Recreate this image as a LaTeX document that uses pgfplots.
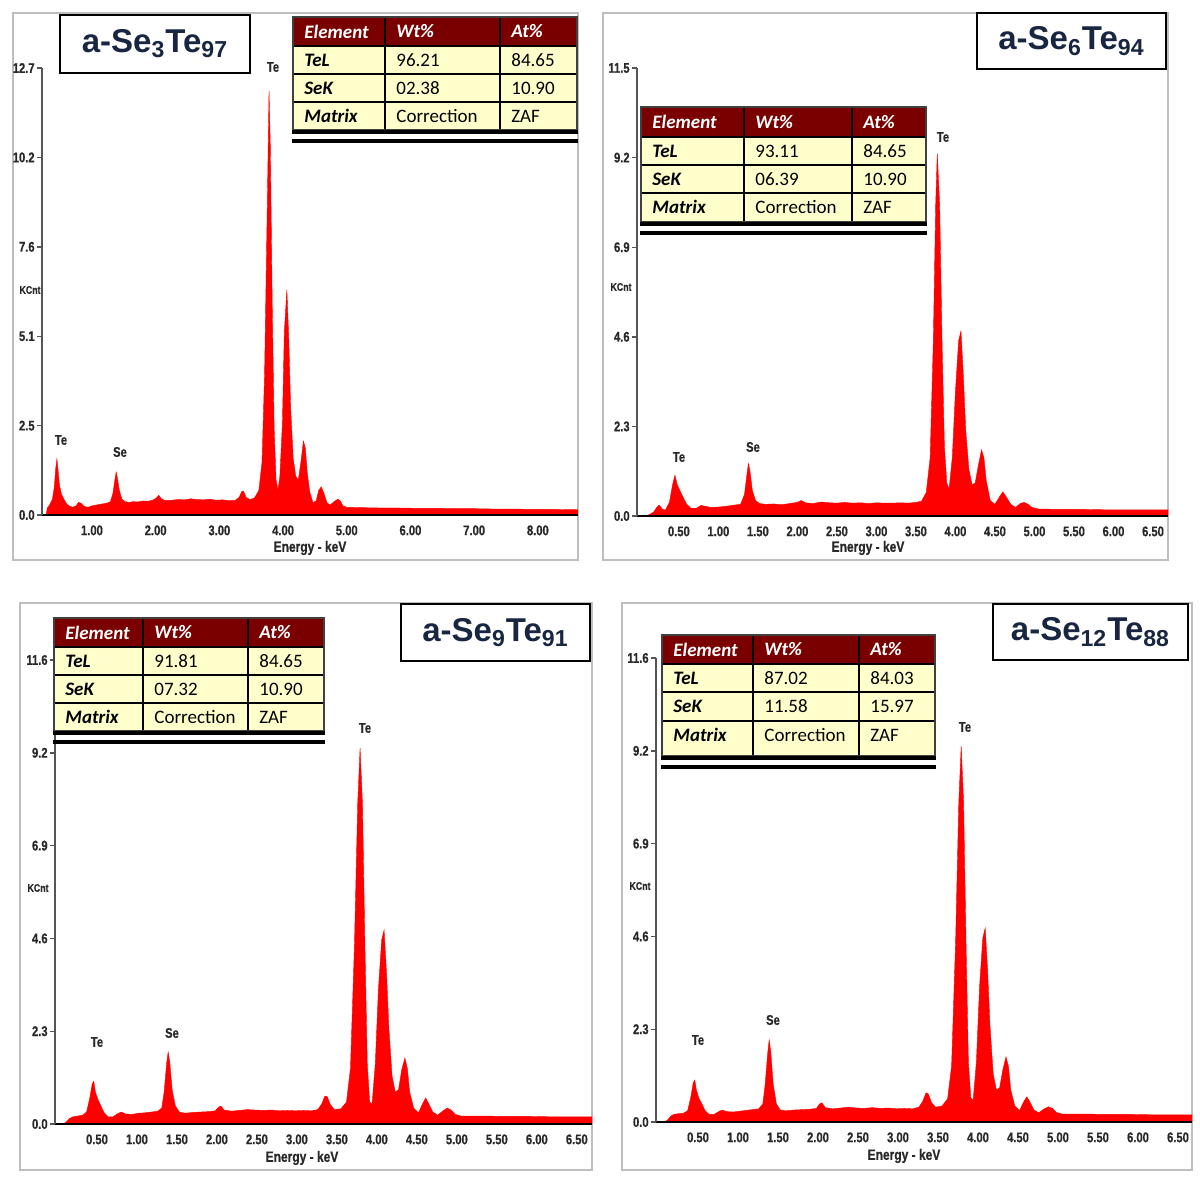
\documentclass[border=0pt]{standalone}
\usepackage{pgfplots}
\pgfplotsset{compat=1.18}
\usepackage{pgfplotstable}
\usepackage{fontspec}
\setmainfont{Liberation Sans}
\newfontfamily\tabfont{Carlito}
\newfontfamily\tickfont[FakeStretch=0.8,FakeBold=0.6]{Liberation Sans}

\definecolor{framegray}{RGB}{190,190,190}
\definecolor{axisgray}{RGB}{85,85,85}
\definecolor{ticktext}{RGB}{40,40,40}
\definecolor{hdrred}{RGB}{122,0,0}
\definecolor{cellyel}{RGB}{255,255,204}
\definecolor{titlenavy}{RGB}{24,38,66}
\definecolor{specred}{RGB}{255,0,0}

% spectra, keV vs KCnt
\pgfplotstableread{
E C
0.28 0.00
0.30 0.20
0.34 0.30
0.38 0.45
0.41 0.80
0.43 1.30
0.45 1.60
0.47 1.25
0.49 0.85
0.52 0.60
0.56 0.45
0.60 0.32
0.65 0.25
0.70 0.22
0.75 0.26
0.79 0.36
0.83 0.33
0.88 0.24
0.94 0.22
1.00 0.26
1.06 0.28
1.12 0.30
1.18 0.32
1.24 0.34
1.29 0.38
1.33 0.62
1.36 1.00
1.38 1.22
1.40 1.05
1.43 0.70
1.47 0.45
1.52 0.38
1.58 0.36
1.65 0.38
1.72 0.37
1.80 0.40
1.88 0.39
1.95 0.42
2.01 0.48
2.05 0.56
2.09 0.46
2.15 0.41
2.25 0.42
2.35 0.44
2.45 0.43
2.55 0.46
2.65 0.44
2.75 0.43
2.85 0.45
2.95 0.42
3.05 0.43
3.15 0.41
3.25 0.42
3.31 0.50
3.35 0.66
3.38 0.68
3.42 0.50
3.48 0.44
3.55 0.48
3.62 0.70
3.67 1.50
3.71 4.00
3.75 8.50
3.78 12.05
3.80 10.50
3.83 6.00
3.86 2.50
3.89 1.00
3.92 0.70
3.95 1.10
3.99 2.60
4.02 5.20
4.06 6.40
4.09 5.00
4.12 3.00
4.16 1.60
4.20 1.10
4.24 1.00
4.28 1.50
4.32 2.10
4.35 1.90
4.38 1.20
4.42 0.65
4.47 0.35
4.52 0.40
4.56 0.70
4.60 0.80
4.64 0.62
4.69 0.35
4.74 0.28
4.80 0.38
4.86 0.45
4.90 0.40
4.94 0.26
5.00 0.22
5.20 0.21
5.50 0.20
5.80 0.20
6.10 0.19
6.40 0.19
6.70 0.18
7.00 0.18
7.30 0.17
7.60 0.17
7.90 0.16
8.20 0.16
8.63 0.15
}\specA

\pgfplotstableread{
E C
-0.03 0.00
0.05 0.00
0.12 0.03
0.18 0.10
0.22 0.22
0.25 0.28
0.29 0.18
0.33 0.15
0.38 0.35
0.42 0.80
0.45 1.05
0.48 0.80
0.52 0.62
0.56 0.45
0.60 0.30
0.65 0.20
0.72 0.20
0.78 0.27
0.84 0.25
0.90 0.22
1.00 0.23
1.10 0.25
1.20 0.28
1.28 0.30
1.33 0.55
1.36 1.05
1.38 1.35
1.40 1.15
1.43 0.65
1.47 0.40
1.52 0.32
1.60 0.30
1.70 0.31
1.80 0.29
1.90 0.32
2.00 0.35
2.05 0.40
2.10 0.34
2.20 0.32
2.30 0.36
2.40 0.34
2.50 0.33
2.60 0.35
2.70 0.33
2.80 0.34
2.90 0.32
3.00 0.34
3.10 0.33
3.20 0.33
3.30 0.34
3.40 0.33
3.50 0.35
3.57 0.38
3.63 0.60
3.68 1.50
3.72 4.50
3.75 8.00
3.77 9.30
3.80 8.00
3.83 4.50
3.86 1.80
3.89 0.85
3.92 0.70
3.96 1.50
4.00 3.20
4.04 4.50
4.07 4.75
4.10 3.60
4.13 2.20
4.17 1.20
4.21 0.80
4.25 0.85
4.29 1.30
4.33 1.70
4.36 1.50
4.39 0.90
4.44 0.40
4.50 0.30
4.56 0.50
4.60 0.62
4.64 0.50
4.70 0.30
4.76 0.22
4.82 0.32
4.87 0.35
4.92 0.30
4.97 0.22
5.05 0.18
5.30 0.17
5.60 0.17
5.90 0.16
6.20 0.16
6.50 0.16
6.69 0.16
}\specB

\pgfplotstableread{
E C
-0.025 0.00
0.08 0.00
0.12 0.06
0.16 0.14
0.20 0.18
0.26 0.20
0.32 0.22
0.37 0.30
0.41 0.65
0.44 1.00
0.46 1.07
0.48 0.80
0.51 0.62
0.55 0.45
0.59 0.28
0.64 0.18
0.70 0.18
0.76 0.26
0.80 0.30
0.86 0.25
0.94 0.24
1.02 0.27
1.10 0.28
1.18 0.30
1.26 0.32
1.31 0.40
1.34 0.80
1.37 1.50
1.39 1.80
1.41 1.55
1.44 0.85
1.48 0.45
1.53 0.30
1.60 0.27
1.70 0.29
1.80 0.30
1.90 0.31
1.98 0.33
2.02 0.42
2.05 0.45
2.09 0.35
2.18 0.32
2.28 0.34
2.38 0.36
2.48 0.35
2.58 0.34
2.68 0.35
2.78 0.33
2.88 0.34
2.98 0.33
3.08 0.34
3.18 0.33
3.26 0.36
3.31 0.50
3.35 0.70
3.38 0.68
3.42 0.48
3.47 0.36
3.55 0.38
3.62 0.55
3.67 1.40
3.72 4.50
3.76 8.00
3.79 9.40
3.82 8.00
3.85 4.50
3.88 1.50
3.91 0.55
3.94 0.50
3.98 1.50
4.02 3.40
4.06 4.60
4.09 4.85
4.12 3.80
4.15 2.40
4.19 1.20
4.23 0.80
4.27 0.85
4.31 1.35
4.35 1.65
4.38 1.40
4.41 0.80
4.46 0.40
4.52 0.28
4.57 0.50
4.61 0.65
4.65 0.50
4.70 0.30
4.76 0.22
4.82 0.32
4.88 0.40
4.93 0.35
4.98 0.24
5.05 0.20
5.30 0.20
5.60 0.19
5.90 0.19
6.20 0.18
6.50 0.18
6.69 0.18
}\specC

\pgfplotstableread{
E C
-0.025 0.00
0.08 0.00
0.12 0.05
0.16 0.15
0.20 0.19
0.26 0.21
0.32 0.22
0.37 0.28
0.41 0.62
0.44 0.98
0.46 1.05
0.48 0.80
0.51 0.60
0.55 0.45
0.59 0.28
0.64 0.19
0.70 0.19
0.76 0.26
0.80 0.30
0.86 0.26
0.94 0.25
1.02 0.27
1.10 0.29
1.18 0.31
1.26 0.33
1.31 0.45
1.34 0.95
1.37 1.70
1.39 2.05
1.41 1.75
1.44 0.95
1.48 0.45
1.53 0.30
1.60 0.28
1.70 0.30
1.80 0.31
1.90 0.32
1.98 0.34
2.02 0.45
2.05 0.48
2.09 0.36
2.18 0.33
2.28 0.35
2.38 0.37
2.48 0.35
2.58 0.34
2.68 0.36
2.78 0.34
2.88 0.35
2.98 0.33
3.08 0.34
3.18 0.33
3.26 0.37
3.31 0.52
3.35 0.73
3.38 0.70
3.42 0.48
3.47 0.37
3.55 0.40
3.62 0.58
3.67 1.40
3.72 4.50
3.76 8.00
3.79 9.40
3.82 8.00
3.85 4.50
3.88 1.50
3.91 0.60
3.94 0.55
3.98 1.50
4.02 3.40
4.06 4.60
4.09 4.85
4.12 3.80
4.15 2.40
4.19 1.20
4.23 0.80
4.27 0.85
4.31 1.30
4.35 1.63
4.38 1.40
4.41 0.80
4.46 0.40
4.52 0.29
4.57 0.50
4.61 0.63
4.65 0.50
4.70 0.30
4.76 0.23
4.82 0.32
4.88 0.38
4.93 0.34
4.98 0.24
5.05 0.20
5.30 0.20
5.60 0.19
5.90 0.19
6.20 0.18
6.50 0.18
6.675 0.18
}\specD

\newcommand\smallbold{\tickfont\bfseries\fontsize{7}{8}\selectfont}

\pgfplotsset{
  eds/.style={
    scale only axis,
    axis x line=bottom, axis y line=left,
    axis line style={-},
    y axis line style={draw=axisgray, line width=0.7pt},
    x axis line style={draw=black, line width=1.1pt},
    axis on top,
    ymin=0,
    tick align=outside,
    major tick length=2.5pt,
    xtick style={draw=none},
    ytick style={draw=axisgray, line width=0.7pt},
    tick label style={font=\smallbold, text=ticktext},
    yticklabel style={inner sep=1pt},
    xticklabel style={inner sep=1pt, yshift=-1.5pt},
  },
  halfkev/.style={
    xtick={0.5,1,1.5,2,2.5,3,3.5,4,4.5,5,5.5,6,6.5},
    xticklabels={0.50,1.00,1.50,2.00,2.50,3.00,3.50,4.00,4.50,5.00,5.50,6.00,6.50},
  },
}

% table helper: columns \xa..\xd, row lines \ya..\ye (pixels)
\newcommand\edstable[4]{%
  \fill[cellyel] (\xa,\yb) rectangle (\xd,\ye);
  \fill[hdrred] (\xa,\ya) rectangle (\xd,\yb);
  \draw[black, line width=0.6pt] (\xa,\yb) -- (\xd,\yb) (\xa,\yc) -- (\xd,\yc) (\xa,\yd) -- (\xd,\yd);
  \draw[black, line width=0.6pt] (\xb,\ya) -- (\xb,\ye) (\xc,\ya) -- (\xc,\ye);
  \draw[black!75, line width=1pt] (\xa,\ya) rectangle (\xd,\ye);
  \fill[black] (\xa-1,\ye) rectangle (\xd+1,\ye+4);
  \fill[black] (\xa-1,\ye+8.5) rectangle (\xd+1,\ye+12.5);
  \begin{scope}[every node/.style={anchor=west, inner sep=0pt, font=\tabfont\fontsize{9.5}{11}\selectfont}]
    \node[text=white, font=\tabfont\bfseries\itshape\fontsize{9.5}{11}\selectfont] at (\xa+11,{(\ya+\yb)/2}) {Element};
    \node[text=white, font=\tabfont\bfseries\itshape\fontsize{9.5}{11}\selectfont] at (\xb+11,{(\ya+\yb)/2}) {Wt\%};
    \node[text=white, font=\tabfont\bfseries\itshape\fontsize{9.5}{11}\selectfont] at (\xc+11,{(\ya+\yb)/2}) {At\%};
    \node[font=\tabfont\bfseries\itshape\fontsize{9.5}{11}\selectfont] at (\xa+11,{(\yb+\yc)/2}) {TeL};
    \node at (\xb+11,{(\yb+\yc)/2}) {#1};
    \node at (\xc+11,{(\yb+\yc)/2}) {#2};
    \node[font=\tabfont\bfseries\itshape\fontsize{9.5}{11}\selectfont] at (\xa+11,{(\yc+\yd)/2}) {SeK};
    \node at (\xb+11,{(\yc+\yd)/2}) {#3};
    \node at (\xc+11,{(\yc+\yd)/2}) {#4};
    \node[font=\tabfont\bfseries\itshape\fontsize{9.5}{11}\selectfont] at (\xa+11,{\yd+14}) {Matrix};
    \node at (\xb+11,{\yd+14}) {Correction};
    \node at (\xc+11,{\yd+14}) {ZAF};
  \end{scope}
}

\newcommand\titlebox[5]{%
  \draw[black, line width=0.6pt, fill=white] (#1,#2) rectangle (#3,#4);
  \node[font=\bfseries\fontsize{16.5}{19}\selectfont, text=titlenavy] at ({(#1+#3)/2},{(#2+#4)/2}) {#5};
}

\begin{document}
\begin{tikzpicture}
\useasboundingbox (0,0) rectangle (600pt,-594.5pt);

% panel frames
\begin{scope}[x=0.5pt, y=-0.5pt]
  \draw[framegray, line width=1pt] (13,13) rectangle (578,560);
  \draw[framegray, line width=1pt] (603,13) rectangle (1168,560);
  \draw[framegray, line width=1pt] (20,603) rectangle (592,1170);
  \draw[framegray, line width=1pt] (622,603) rectangle (1192,1170);
\end{scope}

% a-Se3Te97
\begin{axis}[eds, at={(21pt,-257.5pt)}, width=268pt, height=223.5pt,
  xmin=0.216, xmax=8.63, ymax=12.7,
  ytick={0,2.54,5.08,7.62,10.16,12.7},
  yticklabels={0.0,2.5,5.1,7.6,10.2,12.7},
  xtick={1,2,3,4,5,6,7,8},
  xticklabels={1.00,2.00,3.00,4.00,5.00,6.00,7.00,8.00}]
\addplot[fill=specred, draw=specred, line width=0.2pt] table[x=E, y=C] {\specA} \closedcycle;
\end{axis}

% a-Se6Te94
\begin{axis}[eds, halfkev, at={(318.5pt,-258pt)}, width=265.5pt, height=224pt,
  xmin=-0.03, xmax=6.69, ymax=11.5,
  ytick={0,2.3,4.6,6.9,9.2,11.5},
  yticklabels={0.0,2.3,4.6,6.9,9.2,11.5}]
\addplot[fill=specred, draw=specred, line width=0.2pt] table[x=E, y=C] {\specB} \closedcycle;
\end{axis}

% a-Se9Te91
\begin{axis}[eds, halfkev, at={(27.5pt,-562pt)}, width=268.5pt, height=232pt,
  xmin=-0.025, xmax=6.69, ymax=11.6,
  ytick={0,2.32,4.64,6.96,9.28,11.6},
  yticklabels={0.0,2.3,4.6,6.9,9.2,11.6}]
\addplot[fill=specred, draw=specred, line width=0.2pt] table[x=E, y=C] {\specC} \closedcycle;
\end{axis}

% a-Se12Te88
\begin{axis}[eds, halfkev, at={(328pt,-561pt)}, width=268pt, height=232pt,
  xmin=-0.025, xmax=6.675, ymax=11.6,
  ytick={0,2.32,4.64,6.96,9.28,11.6},
  yticklabels={0.0,2.3,4.6,6.9,9.2,11.6}]
\addplot[fill=specred, draw=specred, line width=0.2pt] table[x=E, y=C] {\specD} \closedcycle;
\end{axis}

\begin{scope}[x=0.5pt, y=-0.5pt]
  % peak labels, axis titles
  \begin{scope}[every node/.style={font=\smallbold, text=ticktext, inner sep=0pt}]
    \node at (273,67) {Te};  \node at (61,440) {Te};  \node at (120,452) {Se};
    \node at (943,137) {Te}; \node at (679,457) {Te}; \node at (753,447) {Se};
    \node at (365,728) {Te}; \node at (97,1042) {Te}; \node at (172,1033) {Se};
    \node at (965,727) {Te}; \node at (698,1040) {Te}; \node at (773,1020) {Se};
    \node[font=\tickfont\bfseries\fontsize{5.5}{6}\selectfont] at (30,290) {KCnt};
    \node[font=\tickfont\bfseries\fontsize{5.5}{6}\selectfont] at (621,287) {KCnt};
    \node[font=\tickfont\bfseries\fontsize{5.5}{6}\selectfont] at (38,888) {KCnt};
    \node[font=\tickfont\bfseries\fontsize{5.5}{6}\selectfont] at (640,886) {KCnt};
    \node[font=\tickfont\bfseries\fontsize{7.5}{8}\selectfont] at (310,548) {Energy - keV};
    \node[font=\tickfont\bfseries\fontsize{7.5}{8}\selectfont] at (868,548) {Energy - keV};
    \node[font=\tickfont\bfseries\fontsize{7.5}{8}\selectfont] at (302,1158) {Energy - keV};
    \node[font=\tickfont\bfseries\fontsize{7.5}{8}\selectfont] at (904,1156) {Energy - keV};
  \end{scope}

  % sample names
  \titlebox{60}{15}{250}{73}{a-Se\textsubscript{3}Te\textsubscript{97}}
  \titlebox{977}{13}{1166}{69}{a-Se\textsubscript{6}Te\textsubscript{94}}
  \titlebox{401}{604}{590}{661}{a-Se\textsubscript{9}Te\textsubscript{91}}
  \titlebox{993}{604}{1188}{660}{a-Se\textsubscript{12}Te\textsubscript{88}}

  % composition tables
  \def\xa{293}\def\xb{385}\def\xc{500}\def\xd{577}
  \def\ya{17}\def\yb{46}\def\yc{74}\def\yd{102}\def\ye{130}
  \edstable{96.21}{84.65}{02.38}{10.90}
  \def\xa{641}\def\xb{744}\def\xc{852}\def\xd{926}
  \def\ya{107}\def\yb{137}\def\yc{165}\def\yd{193}\def\ye{222}
  \edstable{93.11}{84.65}{06.39}{10.90}
  \def\xa{54}\def\xb{143}\def\xc{248}\def\xd{324}
  \def\ya{618}\def\yb{647}\def\yc{675}\def\yd{703}\def\ye{731}
  \edstable{91.81}{84.65}{07.32}{10.90}
  \def\xa{662}\def\xb{753}\def\xc{859}\def\xd{935}
  \def\ya{635}\def\yb{664}\def\yc{692}\def\yd{721}\def\ye{756}
  \edstable{87.02}{84.03}{11.58}{15.97}
\end{scope}
\end{tikzpicture}
\end{document}
